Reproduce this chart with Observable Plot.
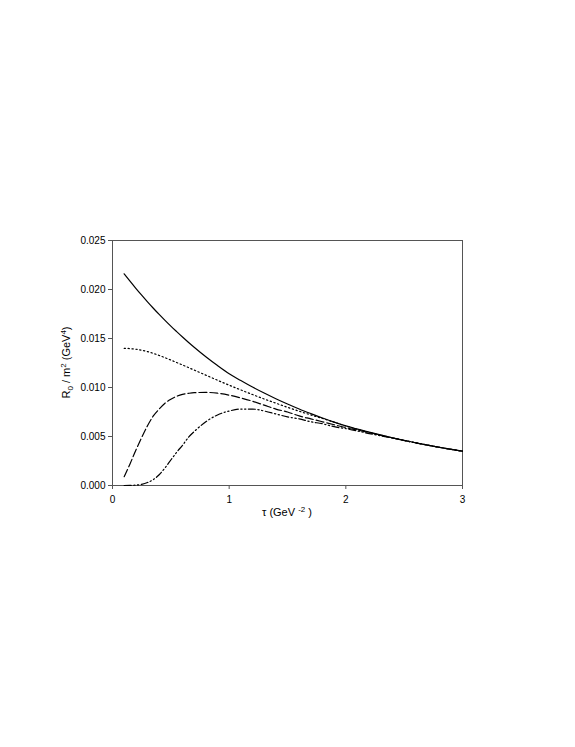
<!DOCTYPE html>
<html>
<head>
<meta charset="utf-8">
<script src="https://cdn.jsdelivr.net/npm/d3@7"></script>
<script src="https://cdn.jsdelivr.net/npm/@observablehq/plot@0.6"></script>
<style>
  html, body { margin: 0; padding: 0; background: #fff; }
  svg { display: block; }
</style>
</head>
<body>
<div id="chart"></div>
<script>
const tau = [0.1, 0.15, 0.2, 0.25, 0.3, 0.35, 0.4, 0.45, 0.5, 0.55, 0.6, 0.65, 0.7,
             0.8, 0.9, 1.0, 1.1, 1.2, 1.3, 1.4, 1.5, 1.6, 1.7, 1.8, 1.9, 2.0,
             2.2, 2.4, 2.6, 2.8, 3.0];
const solid = [0.0216, 0.02085, 0.02012, 0.01942, 0.01874, 0.01809, 0.01746, 0.01685, 0.01626, 0.0157, 0.01515, 0.01462, 0.01411,
               0.01314, 0.01224, 0.0114, 0.01071, 0.01005, 0.00944, 0.00886, 0.00832, 0.00781, 0.00734, 0.00689, 0.00647, 0.00608,
               0.00544, 0.00487, 0.00436, 0.0039, 0.0035];
const dotted = [0.0140, 0.01397, 0.0139, 0.0138, 0.01366, 0.01348, 0.01327, 0.01304, 0.0128, 0.01255, 0.0123, 0.01204, 0.01178,
                0.01126, 0.01074, 0.01024, 0.00975, 0.00928, 0.00883, 0.0084, 0.00798, 0.00758, 0.0072, 0.00684, 0.00646, 0.00607,
                0.00543, 0.00486, 0.00436, 0.0039, 0.0035];
const dashed = [0.0009, 0.0022, 0.0036, 0.0049, 0.0061, 0.0071, 0.0078, 0.0084, 0.0088, 0.0091, 0.0093, 0.0094, 0.00947,
                0.0095, 0.00942, 0.00922, 0.00893, 0.0086, 0.0082, 0.0078, 0.0075, 0.0071, 0.0068, 0.0065, 0.0062, 0.0059,
                0.0054, 0.00485, 0.00435, 0.0039, 0.0035];
const dashdot = [0.0000, 0.00001, 0.00004, 0.00012, 0.0003, 0.0006, 0.0011, 0.0018, 0.0026, 0.0034, 0.0041, 0.0049, 0.0055,
                 0.0065, 0.0072, 0.0076, 0.0078, 0.0078, 0.0076, 0.0073, 0.0070, 0.0068, 0.0065, 0.0063, 0.0060, 0.0058,
                 0.0053, 0.00483, 0.00434, 0.0039, 0.0035];
const xTicks = [0, 1, 2, 3];
const yTicks = [0, 0.005, 0.010, 0.015, 0.020, 0.025];

const seriesList = [
  {name: "solid", values: solid, dash: null},
  {name: "dotted", values: dotted, dash: "1.3,2.6"},
  {name: "dashed", values: dashed, dash: "8,3"},
  {name: "dashdot", values: dashdot, dash: "7,2.5,1.3,2.5,1.3,2.5"}
];

const font = "Liberation Sans, Arial, Helvetica, sans-serif";

const lineMarks = seriesList.map(s =>
  Plot.line(tau.map((t, i) => ({t, v: s.values[i]})), {
    x: "t", y: "v", stroke: "#000", strokeWidth: 1.2,
    strokeDasharray: s.dash, curve: "monotone-x"
  })
);

const chart = Plot.plot({
  width: 575,
  height: 747,
  marginLeft: 112,
  marginRight: 113,
  marginTop: 240,
  marginBottom: 262,
  style: {fontFamily: font, fontSize: "10px", color: "#000", background: "#fff"},
  x: {domain: [0, 3]},
  y: {domain: [0, 0.025]},
  marks: [
    Plot.frame({stroke: "#555", strokeWidth: 1}),
    Plot.axisX({ticks: xTicks, tickFormat: d3.format("d"), tickSize: 4, tickPadding: 6, label: null, stroke: "#555", fontSize: 10}),
    Plot.axisY({ticks: yTicks, tickFormat: d3.format(".3f"), tickSize: 4, tickPadding: 3, label: null, stroke: "#555", fontSize: 10}),
    ...lineMarks
  ]
});

document.getElementById("chart").appendChild(chart);

// Axis titles with sub/superscripts
const sx = chart.scale("x"), sy = chart.scale("y");
const svg = d3.select(chart);
const xMid = (sx.apply(0) + sx.apply(3)) / 2;
const yMid = (sy.apply(0) + sy.apply(0.025)) / 2;

const xl = svg.append("text")
  .attr("x", xMid).attr("y", sy.apply(0) + 31)
  .attr("text-anchor", "middle")
  .attr("font-family", font).attr("font-size", 11).attr("fill", "#000");
xl.append("tspan").text("\u03C4 (GeV ");
xl.append("tspan").attr("font-size", 8).attr("dy", -4).text("-2");
xl.append("tspan").attr("dy", 4).text(" )");

const yl = svg.append("text")
  .attr("transform", `translate(${sx.apply(0) - 42},${yMid}) rotate(-90)`)
  .attr("text-anchor", "middle")
  .attr("font-family", font).attr("font-size", 11).attr("fill", "#000");
yl.append("tspan").text("R");
yl.append("tspan").attr("font-size", 8).attr("dy", 3).text("0");
yl.append("tspan").attr("dy", -3).text(" / m");
yl.append("tspan").attr("font-size", 8).attr("dy", -4).text("2");
yl.append("tspan").attr("dy", 4).text(" (GeV");
yl.append("tspan").attr("font-size", 8).attr("dy", -4).text("4");
yl.append("tspan").attr("dy", 4).text(")");
</script>
</body>
</html>
